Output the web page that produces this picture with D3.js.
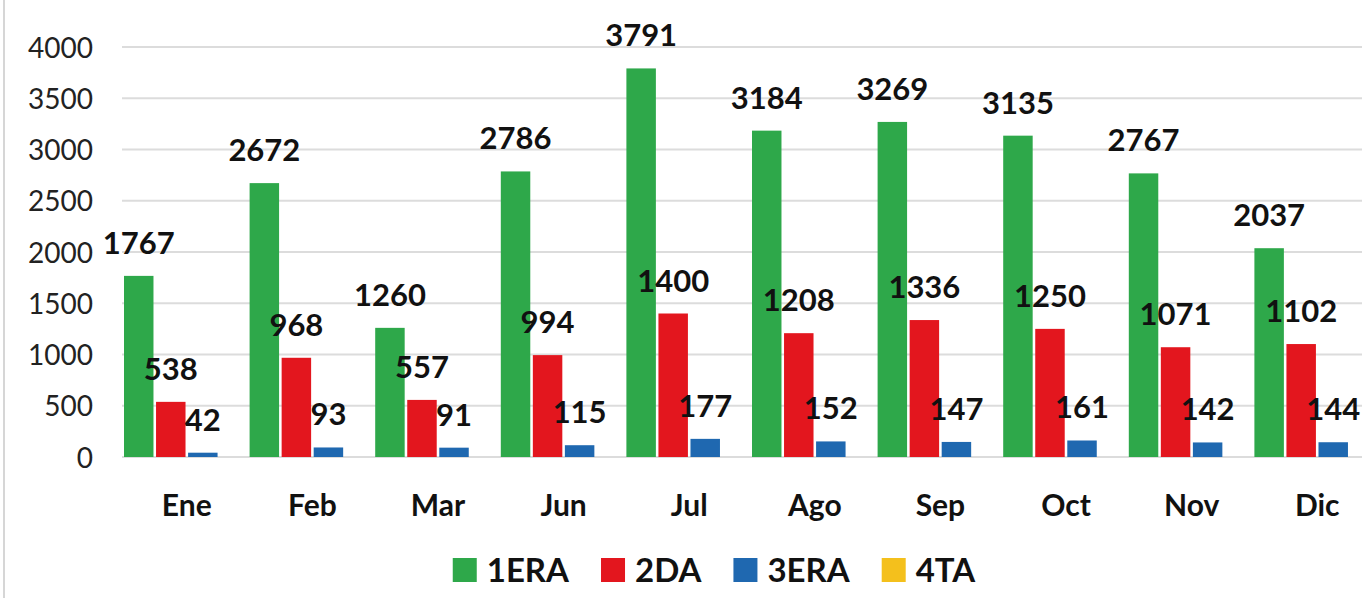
<!DOCTYPE html>
<html>
<head>
<meta charset="utf-8">
<script src="https://cdn.jsdelivr.net/npm/d3@7"></script>
<style>
  html, body { margin: 0; padding: 0; background: #fff; }
  svg { display: block; font-family: Lato, "Open Sans", sans-serif; }
</style>
</head>
<body>
<svg id="chart" width="1362" height="598"></svg>
<script>
const categories = ["Ene", "Feb", "Mar", "Jun", "Jul", "Ago", "Sep", "Oct", "Nov", "Dic"];
const seriesNames = ["1ERA", "2DA", "3ERA", "4TA"];
const seriesColors = ["#2ea84a", "#e3161e", "#1f68b0", "#f4c01c"];
const values1ERA = [1767, 2672, 1260, 2786, 3791, 3184, 3269, 3135, 2767, 2037];
const values2DA  = [538, 968, 557, 994, 1400, 1208, 1336, 1250, 1071, 1102];
const values3ERA = [42, 93, 91, 115, 177, 152, 147, 161, 142, 144];
const values4TA  = [0, 0, 0, 0, 0, 0, 0, 0, 0, 0];
const yTicks = [0, 500, 1000, 1500, 2000, 2500, 3000, 3500, 4000];

const seriesValues = [values1ERA, values2DA, values3ERA, values4TA];

const svg = d3.select("#chart");
const W = 1362, H = 598;

// left frame border
svg.append("line").attr("x1", 4).attr("x2", 4).attr("y1", 0).attr("y2", H)
  .attr("stroke", "#d6d6d6").attr("stroke-width", 2);

const y = d3.scaleLinear().domain([0, 4000]).range([457, 47]);
const x = d3.scaleBand().domain(categories).range([124, 124 + 125.6 * categories.length]).padding(0);
const xs = d3.scaleBand().domain(seriesNames).range([0, x.bandwidth()]).paddingInner(0.08).paddingOuter(0);

// gridlines
svg.append("g").selectAll("line").data(yTicks).join("line")
  .attr("x1", 122).attr("x2", W)
  .attr("y1", d => y(d)).attr("y2", d => y(d))
  .attr("stroke", "#dcdcdc").attr("stroke-width", 2);

// y axis labels
const yAxis = svg.append("g").attr("transform", "translate(93,0)")
  .call(d3.axisLeft(y).tickValues(yTicks).tickSize(0).tickPadding(0).tickFormat(d3.format("d")));
yAxis.select(".domain").remove();
yAxis.selectAll("text").attr("font-size", 28).attr("fill", "#222")
  .attr("font-family", "Lato, 'Open Sans', sans-serif").attr("dy", "0.36em");

// bars
const groups = svg.append("g").selectAll("g").data(categories).join("g")
  .attr("transform", d => `translate(${x(d)},0)`);

const barData = (c, i) => seriesNames.map((s, k) => ({ s, k, v: seriesValues[k][i] }));

groups.each(function(c, i) {
  const g = d3.select(this);
  const d = barData(c, i);
  g.selectAll("rect").data(d).join("rect")
    .attr("x", e => xs(e.s))
    .attr("width", xs.bandwidth())
    .attr("y", e => y(e.v))
    .attr("height", e => y(0) - y(e.v))
    .attr("fill", e => seriesColors[e.k]);
  g.selectAll("text").data(d.filter(e => e.k < 3)).join("text")
    .attr("x", e => xs(e.s) + xs.bandwidth() / 2)
    .attr("y", e => y(e.v) - 22)
    .attr("text-anchor", "middle")
    .attr("font-size", 31).attr("font-weight", "bold").attr("fill", "#111")
    .text(e => e.v);
});

// x axis labels
const xAxis = svg.append("g").attr("transform", "translate(0,516)")
  .call(d3.axisBottom(x).tickSize(0).tickPadding(0));
xAxis.select(".domain").remove();
xAxis.selectAll("text").attr("font-size", 30).attr("font-weight", "bold").attr("fill", "#111")
  .attr("font-family", "Lato, 'Open Sans', sans-serif").attr("dy", 0);

// legend
const legend = svg.append("g");
const items = legend.selectAll("g").data(seriesNames).join("g");
items.append("rect").attr("width", 24).attr("height", 24).attr("y", 558)
  .attr("fill", (d, i) => seriesColors[i]);
items.append("text").attr("x", 34).attr("y", 582)
  .attr("font-size", 33).attr("font-weight", "bold").attr("fill", "#111").text(d => d);
let widths = [];
items.each(function() { widths.push(34 + d3.select(this).select("text").node().getComputedTextLength()); });
const gap = 32;
const total = d3.sum(widths) + gap * (widths.length - 1);
let cx = 714 - total / 2;
items.attr("transform", (d, i) => { const t = `translate(${cx},0)`; cx += widths[i] + gap; return t; });
</script>
</body>
</html>
